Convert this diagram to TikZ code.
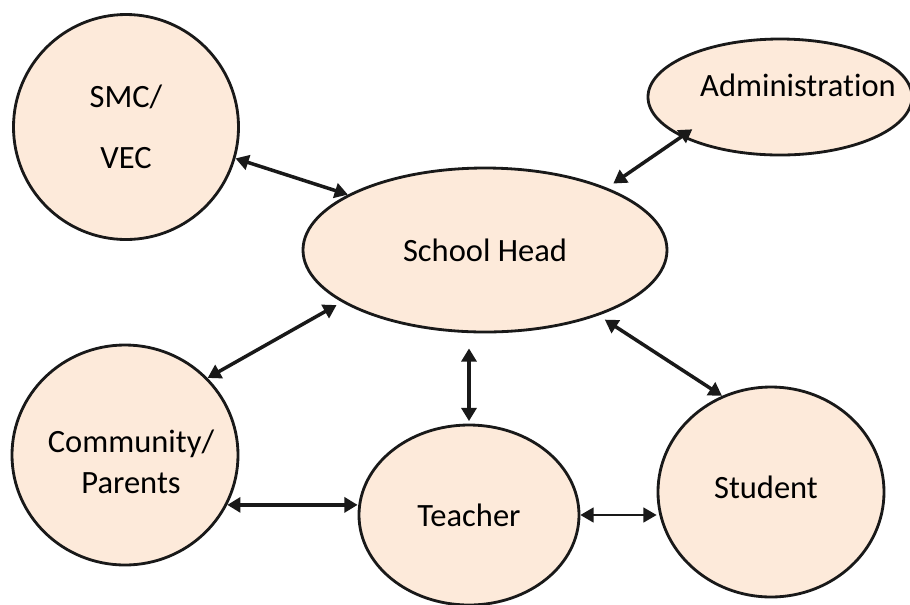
\documentclass[tikz,border=0pt]{standalone}
\usepackage{fontspec}
\setmainfont{Carlito}[Ligatures={NoCommon}]
\usepackage{xcolor}
\usepackage{tikz}
\usetikzlibrary{shapes.geometric,arrows.meta}

\definecolor{peach}{RGB}{253,234,218}

\begin{document}
\begin{tikzpicture}[
    bubble/.style={ellipse, draw=black!90, line width=1.6pt, fill=peach,
      inner sep=0pt, align=center, font=\fontsize{18.5}{23}\selectfont},
    caption/.style={align=center, font=\fontsize{18.5}{23.5}\selectfont},
    link/.style={{Triangle[length=7.5pt,width=8.5pt]}-{Triangle[length=7.5pt,width=8.5pt]},
      line width=2pt, black!90},
    thinlink/.style={link, line width=0.9pt}]
  \useasboundingbox (0,0) rectangle (18.2,-12.08);

  % the six actors
  \node[bubble, minimum width=4.5cm, minimum height=4.5cm] (smc) at (2.52,-2.54) {SMC/\\[12pt]VEC};
  \node[bubble, minimum width=5.28cm, minimum height=2.32cm,
    label={[caption, xshift=0.36cm, yshift=0.24cm]center:Administration}] (admin) at (15.6,-1.94) {};
  \node[bubble, minimum width=7.28cm, minimum height=3.28cm] (head) at (9.7,-5.0) {School Head};
  \node[bubble, minimum width=4.52cm, minimum height=4.4cm,
    label={[caption, xshift=0.12cm, yshift=-0.14cm]center:Community/\\Parents}] (comm) at (2.5,-9.1) {};
  \node[bubble, minimum width=4.4cm, minimum height=3.6cm] (teacher) at (9.38,-10.3) {Teacher};
  \node[bubble, minimum width=4.52cm, minimum height=4.2cm,
    label={[caption, xshift=-0.1cm, yshift=0.1cm]center:Student}] (student) at (15.42,-9.84) {};

  % two-way links
  \draw[link] (smc.-16) -- (head.158);
  \draw[link, shorten <=-0.27cm, shorten >=0.15cm] (admin.202) -- (head.27);
  \draw[link, shorten >=0.12cm] (comm.43) -- (head.200);
  \draw[link, shorten <=0.15cm] (head.-30) -- (student.117);
  \draw[link, shorten <=0.3cm, shorten >=0.05cm] (head.south -| teacher.north) -- (teacher.north);
  \draw[link] (comm.-26) -- (comm.-26 -| teacher.west);
  \draw[thinlink] (teacher.east) -- (teacher.east -| student.west);
\end{tikzpicture}
\end{document}
